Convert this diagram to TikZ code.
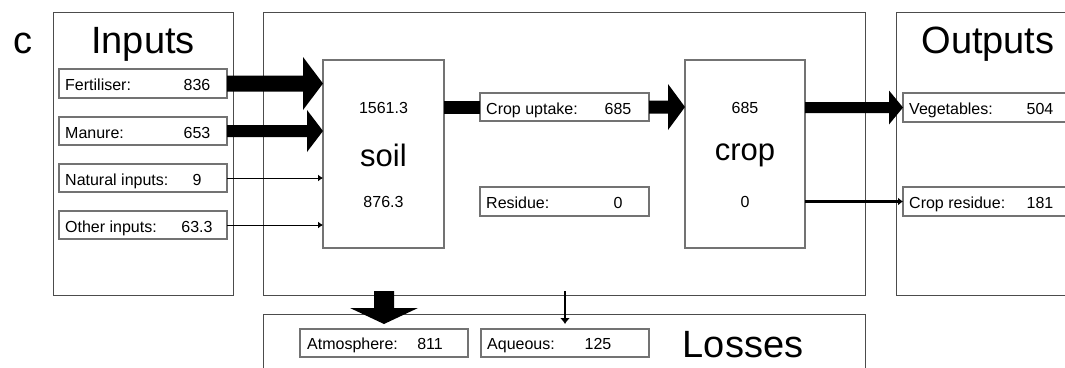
\documentclass[tikz,border=0pt]{standalone}
\usepackage{fontspec}
\setmainfont{Liberation Sans}
\usetikzlibrary{calc,arrows.meta}
\begin{document}
\begin{tikzpicture}[x=1pt,y=-1pt,
  bigbox/.style={draw=black!70,line width=1pt,rectangle,inner sep=0pt,outer sep=0pt,anchor=north west},
  inbox/.style={draw=black!55,fill=white,line width=1.2pt,rectangle,inner sep=0pt,outer sep=0pt,anchor=north west},
  lbl/.style={font=\fontsize{16}{19}\selectfont,inner sep=0pt,anchor=base west},
  num/.style={font=\fontsize{16}{19}\selectfont,inner sep=0pt,anchor=base},
  title/.style={font=\fontsize{38}{45}\selectfont,inner sep=0pt,anchor=base},
  poolname/.style={font=\fontsize{31}{37}\selectfont,inner sep=0pt,anchor=base},
  hfat/.style n args={3}{to path={let \p1=(\tikztostart),\p2=(\tikztotarget) in (\x1,\y1+#1) -- (\x2-#3,\y1+#1) -- (\x2-#3,\y1+#2) -- (\x2,\y1) -- (\x2-#3,\y1-#2) -- (\x2-#3,\y1-#1) -- (\x1,\y1-#1) -- cycle}},
  vfat/.style n args={3}{to path={let \p1=(\tikztostart),\p2=(\tikztotarget) in (\x1-#1,\y1) -- (\x1+#1,\y1) -- (\x1+#1,\y2+#3) -- (\x1+#2,\y2+#3) -- (\x1,\y2) -- (\x1-#2,\y2+#3) -- (\x1-#1,\y2+#3) -- cycle}},
  thinarrow/.style={draw,line width=1pt,-{Latex[length=5pt,width=7pt]}},
]
\useasboundingbox (0,0) rectangle (1065,367);
\fill[white] (0,0) rectangle (1065,367);
\clip (0,0) rectangle (1065,367);

% compartments
\node[bigbox,minimum width=180pt,minimum height=283pt] (inputs) at (53,12) {};
\node[bigbox,minimum width=602pt,minimum height=283pt] (main) at (263,12) {};
\node[bigbox,minimum width=250pt,minimum height=283pt] (outputs) at (896,12) {};
\node[bigbox,minimum width=602pt,minimum height=100pt] (losses) at (263,314) {};

\node[title] (clab) at (23,53) {c};
\node[title] (tin) at (143,53) {Inputs};
\node[title] (tout) at (988,53) {Outputs};
\node[title] (tloss) at (743,357) {Losses};

% inner boxes
\node[inbox,minimum width=168pt,minimum height=29pt] (fert) at (59,69) {};
\node[inbox,minimum width=168pt,minimum height=28pt] (manure) at (59,117) {};
\node[inbox,minimum width=168pt,minimum height=28pt] (natural) at (59,164) {};
\node[inbox,minimum width=168pt,minimum height=28pt] (other) at (59,211) {};
\node[inbox,minimum width=121pt,minimum height=188pt] (soil) at (323,60) {};
\node[inbox,minimum width=169pt,minimum height=28pt] (uptake) at (480,93) {};
\node[inbox,minimum width=169pt,minimum height=29pt] (residue) at (480,187) {};
\node[inbox,minimum width=120pt,minimum height=188pt] (crop) at (685,60) {};
\node[inbox,minimum width=200pt,minimum height=29pt] (veg) at (903,93) {};
\node[inbox,minimum width=200pt,minimum height=29pt] (cropres) at (903,187) {};
\node[inbox,minimum width=168pt,minimum height=28pt] (atm) at (300,329) {};
\node[inbox,minimum width=168pt,minimum height=28pt] (aq) at (481,329) {};

% connectors
\fill (fert.east) to[hfat={8pt}{26.5pt}{20pt}] (soil.west|-fert.east);
\fill (manure.east) to[hfat={6pt}{21pt}{16pt}] (soil.west|-manure.east);
\draw[thinarrow] (natural.east) -- (soil.west|-natural.east);
\draw[thinarrow] (other.east) -- (soil.west|-other.east);
\draw[line width=13pt] (soil.east|-uptake.west) -- (uptake.west);
\fill (uptake.east) to[hfat={6.5pt}{23pt}{17pt}] (crop.west|-uptake.east);
\fill (crop.east|-veg.west) to[hfat={5.5pt}{17pt}{14pt}] (veg.west);
\draw[line width=2.5pt,-{Latex[length=5pt,width=8pt]}] (crop.east|-cropres.west) -- (cropres.west);
\fill ($(atm.north|-main.south)+(0,-4)$) to[vfat={10pt}{34pt}{16pt}] ($(atm.north)+(0,-5)$);
\draw[line width=2.5pt,-{Latex[length=6pt,width=10pt]}] ($(aq.north|-main.south)+(0,-4)$) -- ($(aq.north)+(0,-5)$);

% texts in boxes
\node[lbl] (l1) at ($(fert.west)+(6,7)$) {Fertiliser:};
\node[num] (n1) at ($(fert.west)+(138,7)$) {836};
\node[lbl] (l2) at ($(manure.west)+(6,7)$) {Manure:};
\node[num] (n2) at ($(manure.west)+(138,7)$) {653};
\node[lbl] (l3) at ($(natural.west)+(6,7)$) {Natural inputs:};
\node[num] (n3) at ($(natural.west)+(138,7)$) {9};
\node[lbl] (l4) at ($(other.west)+(6,7)$) {Other inputs:};
\node[num] (n4) at ($(other.west)+(138,7)$) {63.3};

\node[num] (s1) at (383.5,113) {1561.3};
\node[poolname] (sname) at (383.5,166) {soil};
\node[num] (s2) at (383.5,207) {876.3};

\node[lbl] (l5) at ($(uptake.west)+(6,7)$) {Crop uptake:};
\node[num] (n5) at ($(uptake.west)+(138,7)$) {685};
\node[lbl] (l6) at ($(residue.west)+(6,7)$) {Residue:};
\node[num] (n6) at ($(residue.west)+(138,7)$) {0};

\node[num] (c1) at (745,113) {685};
\node[poolname] (cname) at (745,160) {crop};
\node[num] (c2) at (745,207) {0};

\node[lbl] (l7) at ($(veg.west)+(6,7)$) {Vegetables:};
\node[num] (n7) at ($(veg.west)+(137,7)$) {504};
\node[lbl] (l8) at ($(cropres.west)+(6,7)$) {Crop residue:};
\node[num] (n8) at ($(cropres.west)+(137,7)$) {181};

\node[lbl] (l9) at ($(atm.west)+(7,6)$) {Atmosphere:};
\node[num] (n9) at ($(atm.west)+(130,6)$) {811};
\node[lbl] (l10) at ($(aq.west)+(6,6)$) {Aqueous:};
\node[num] (n10) at ($(aq.west)+(117,6)$) {125};
\end{tikzpicture}
\end{document}
